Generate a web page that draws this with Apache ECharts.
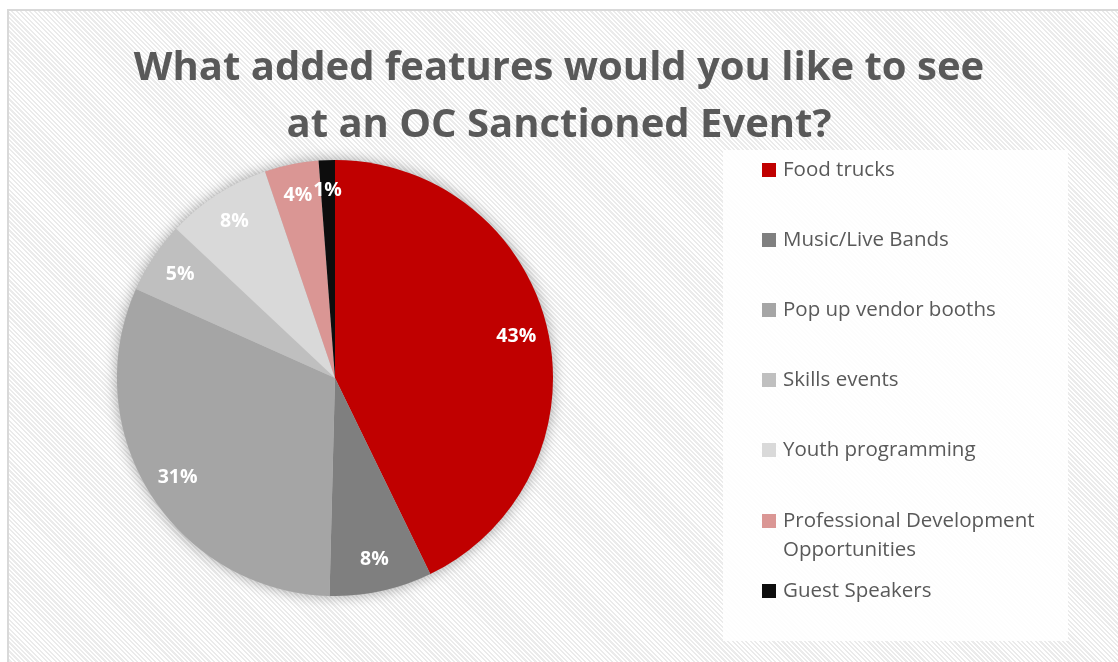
<!DOCTYPE html>
<html>
<head>
<meta charset="utf-8">
<script src="https://cdn.jsdelivr.net/npm/echarts@6/dist/echarts.min.js"></script>
<style>
  html, body { margin: 0; padding: 0; background: #fff; }
  #frame {
    position: absolute; left: 7px; top: 9px; width: 1130px; height: 670px;
    border: 2px solid #d9d9d9; box-sizing: border-box;
    background: repeating-linear-gradient(45deg, #ffffff 0px, #ffffff 1.6px, #ebebeb 1.6px, #ebebeb 3.2px);
  }
  #main { position: absolute; left: 0; top: 0; width: 1118px; height: 662px; }
</style>
</head>
<body>
<div id="frame"></div>
<div id="main"></div>
<script>
// 饼图数据
const categories = ['Food trucks', 'Music/Live Bands', 'Pop up vendor booths', 'Skills events',
  'Youth programming', 'Professional Development Opportunities', 'Guest Speakers']
const shares = [42.8, 7.6, 31.3, 5.3, 7.8, 4.0, 1.2]
const colors = ['#c00000', '#7f7f7f', '#a5a5a5', '#bfbfbf', '#d9d9d9', '#da9694', '#0d0d0d']

// 图例每项中心的纵坐标
const legendCenters = [170, 240, 310, 380, 450, 521, 591]

const chart = echarts.init(document.getElementById('main'))

const center = [335, 378]
const radius = 218
const lineH = 29

const legends = categories.map((name, i) => {
  const twoLine = name === 'Professional Development Opportunities'
  return {
    orient: 'vertical',
    left: 762,
    top: twoLine ? legendCenters[i] - lineH * 1.5 : legendCenters[i] - lineH / 2,
    padding: 0,
    itemWidth: 14,
    itemHeight: 14,
    icon: 'rect',
    data: [name],
    formatter: twoLine ? ' \nProfessional Development\nOpportunities' : '{name}',
    textStyle: {
      fontFamily: 'Open Sans',
      fontSize: 20.5,
      color: '#595959',
      lineHeight: lineH,
      padding: [0, 0, 0, 2]
    }
  }
})

const labelText = p => Math.round(p.percent) + '%'

chart.setOption({
  animation: false,
  title: {
    text: 'What added features would you like to see\nat an OC Sanctioned Event?',
    left: 'center',
    top: 35,
    textStyle: {
      fontFamily: 'Open Sans',
      fontWeight: 'bold',
      fontSize: 40,
      color: '#595959',
      lineHeight: 57
    }
  },
  graphic: [{
    type: 'rect',
    left: 723, top: 150,
    shape: { width: 345, height: 491 },
    style: { fill: 'rgba(255,255,255,0.88)' },
    silent: true,
    z: -1
  }],
  legend: legends,
  series: [
    {
      // 阴影底盘
      type: 'pie',
      center, radius: [0, radius],
      silent: true,
      label: { show: false },
      labelLine: { show: false },
      itemStyle: { color: '#bfbfbf', shadowBlur: 14, shadowColor: 'rgba(0,0,0,0.35)' },
      data: [{ name: '', value: 1 }],
      z: 1
    },
    {
      type: 'pie',
      center, radius: [0, radius],
      startAngle: 90,
      clockwise: true,
      label: { show: false },
      labelLine: { show: false },
      itemStyle: { borderWidth: 0 },
      data: categories.map((name, i) => ({ name, value: shares[i], itemStyle: { color: colors[i] } })),
      z: 2
    },
    {
      // 标签层，标签放在约 0.84 半径处
      type: 'pie',
      center, radius: [148, radius],
      startAngle: 90,
      clockwise: true,
      silent: true,
      avoidLabelOverlap: false,
      itemStyle: { color: 'rgba(0,0,0,0)' },
      label: {
        show: true,
        position: 'inside',
        formatter: labelText,
        fontFamily: 'Open Sans',
        fontWeight: 'bold',
        fontSize: 19.5,
        color: '#ffffff'
      },
      labelLine: { show: false },
      data: categories.map((name, i) => {
        const item = { name, value: shares[i] }
        // 太窄的扇区放不下内部标签，改成外部标签并往回拉
        if (shares[i] < 2) {
          item.label = { position: 'outside', distanceToLabelLine: -14 }
          item.labelLine = { show: false, length: -30, length2: 0 }
        }
        return item
      }),
      z: 3
    }
  ]
})
</script>
</body>
</html>
